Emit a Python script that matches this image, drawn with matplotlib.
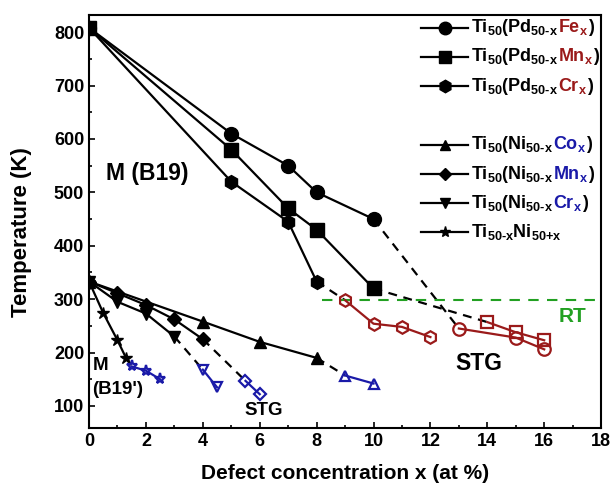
import numpy as np
import matplotlib
matplotlib.use('Agg')
import matplotlib.pyplot as plt
from matplotlib.lines import Line2D
from matplotlib.offsetbox import (AnchoredOffsetbox, HPacker, VPacker,
                                  TextArea, DrawingArea)

plt.rcParams['font.family'] = ['Liberation Sans', 'DejaVu Sans']
plt.rcParams['font.weight'] = 'bold'
plt.rcParams['mathtext.fontset'] = 'custom'
plt.rcParams['mathtext.rm'] = 'Liberation Sans:bold'
plt.rcParams['mathtext.it'] = 'Liberation Sans:bold'
plt.rcParams['mathtext.bf'] = 'Liberation Sans:bold'
plt.rcParams['mathtext.default'] = 'rm'

# ---------------- data ----------------
# Ti50(Pd50-x X x)
pd_fe_x = [0, 5, 7, 8, 10]
pd_fe_T = [808, 610, 550, 500, 450]
pd_fe_stg_x = [13, 15, 16]
pd_fe_stg_T = [245, 228, 206]

pd_mn_x = [0, 5, 7, 8, 10]
pd_mn_T = [808, 580, 470, 430, 320]
pd_mn_stg_x = [14, 15, 16]
pd_mn_stg_T = [257, 238, 223]

pd_cr_x = [0, 5, 7, 8]
pd_cr_T = [808, 520, 445, 333]
pd_cr_stg_x = [9, 10, 11, 12]
pd_cr_stg_T = [298, 254, 248, 229]

# Ti50(Ni50-x X x)
ni_co_x = [0, 4, 6, 8]
ni_co_T = [333, 258, 220, 190]
ni_co_stg_x = [9, 10]
ni_co_stg_T = [157, 142]

ni_mn_x = [0, 1, 2, 3, 4]
ni_mn_T = [333, 311, 289, 262, 225]
ni_mn_stg_x = [5.5, 6]
ni_mn_stg_T = [147, 122]

ni_cr_x = [0, 1, 2, 3]
ni_cr_T = [333, 295, 273, 230]
ni_cr_stg_x = [4, 4.5]
ni_cr_stg_T = [168, 135]

tini_x = [0, 0.5, 1, 1.3]
tini_T = [333, 274, 223, 190]
tini_stg_x = [1.5, 2, 2.5]
tini_stg_T = [174, 166, 150]

RT = 298
rt_start = 8.2

RED = '#9a1a1a'
BLUE = '#1a1aa8'
GREEN = '#22a022'

# ---------------- plot ----------------
fig = plt.figure(figsize=(6.14, 4.84), dpi=100)
ax = fig.add_axes([0.145, 0.116, 0.834, 0.853])

def series(x, T, xs, Ts, mk, col, ms, lw=1.6):
    # filled (martensite) branch, dashed link, open (strain glass) branch
    ax.plot(x, T, marker=mk, color='k', ms=ms, lw=lw, zorder=3)
    ax.plot([x[-1], xs[0]], [T[-1], Ts[0]], '--', color='k', lw=lw,
            dashes=(4, 3), zorder=2)
    ax.plot(xs, Ts, marker=mk, color=col, ms=ms - 1, lw=lw, mfc='none',
            mew=1.6, zorder=3)

series(pd_fe_x, pd_fe_T, pd_fe_stg_x, pd_fe_stg_T, 'o', RED, 10)
series(pd_mn_x, pd_mn_T, pd_mn_stg_x, pd_mn_stg_T, 's', RED, 10)
series(pd_cr_x, pd_cr_T, pd_cr_stg_x, pd_cr_stg_T, 'h', RED, 10)
series(ni_co_x, ni_co_T, ni_co_stg_x, ni_co_stg_T, '^', BLUE, 8)
series(ni_mn_x, ni_mn_T, ni_mn_stg_x, ni_mn_stg_T, 'D', BLUE, 7)
series(ni_cr_x, ni_cr_T, ni_cr_stg_x, ni_cr_stg_T, 'v', BLUE, 8)
series(tini_x, tini_T, tini_stg_x, tini_stg_T, '*', BLUE, 9)

ax.plot([rt_start, 18], [RT, RT], '--', color=GREEN, lw=1.5, dashes=(5, 4))

# labels inside plot
ax.text(17.0, 268, 'RT', color=GREEN, fontsize=15, fontweight='bold',
        ha='center', va='center')
ax.text(13.7, 179, 'STG', fontsize=16.5, fontweight='bold',
        ha='center', va='center')
ax.text(6.15, 92, 'STG', fontsize=13.5, fontweight='bold',
        ha='center', va='center')
ax.text(0.6, 536, 'M (B19)', fontsize=16.5, fontweight='bold',
        ha='left', va='center')
ax.text(0.12, 175, 'M', fontsize=13.5, fontweight='bold',
        ha='left', va='center')
ax.text(0.12, 130, "(B19')", fontsize=13.5, fontweight='bold',
        ha='left', va='center')

ax.set_xlim(0, 18)
ax.set_ylim(59, 832)
ax.set_xticks(np.arange(0, 19, 2))
ax.set_xticks(np.arange(0, 19, 1), minor=True)
ax.set_yticks(np.arange(100, 801, 100))
ax.set_yticks(np.arange(100, 801, 50), minor=True)
ax.tick_params(which='both', direction='in', width=1.2, labelsize=13)
ax.tick_params(which='major', length=4)
ax.tick_params(which='minor', length=2)
for sp in ax.spines.values():
    sp.set_linewidth(1.5)
ax.set_xlabel('Defect concentration x (at %)', fontsize=15,
              fontweight='bold')
ax.set_ylabel('Temperature (K)', fontsize=16, fontweight='bold')
ax.xaxis.set_label_coords(0.5, -0.087)
ax.yaxis.set_label_coords(-0.111, 0.475)

# ---------------- legend (multi-colour text) ----------------
def handle(mk, ms):
    da = DrawingArea(34, 14, 0, 0)
    da.add_artist(Line2D([0, 34], [7, 7], color='k', lw=1.6))
    da.add_artist(Line2D([17], [7], marker=mk, color='k', ms=ms))
    return da

def label(parts):
    boxes = [TextArea(t, textprops=dict(color=c, fontsize=13,
                                         fontweight='bold'))
             for t, c in parts]
    return HPacker(children=boxes, align='baseline', pad=0, sep=0)

pd_pre = r'Ti$_{50}$(Pd$_{50\text{-}x}$'
ni_pre = r'Ti$_{50}$(Ni$_{50\text{-}x}$'
rows = [
    ('o', 9, [(pd_pre, 'k'), (r'Fe$_{x}$', RED), (')', 'k')]),
    ('s', 9, [(pd_pre, 'k'), (r'Mn$_{x}$', RED), (')', 'k')]),
    ('h', 9, [(pd_pre, 'k'), (r'Cr$_{x}$', RED), (')', 'k')]),
    None,
    ('^', 7, [(ni_pre, 'k'), (r'Co$_{x}$', BLUE), (')', 'k')]),
    ('D', 6, [(ni_pre, 'k'), (r'Mn$_{x}$', BLUE), (')', 'k')]),
    ('v', 7, [(ni_pre, 'k'), (r'Cr$_{x}$', BLUE), (')', 'k')]),
    ('*', 8, [(r'Ti$_{50\text{-}x}$Ni$_{50\text{+}x}$', 'k')]),
]
row_boxes = []
for r in rows:
    if r is None:
        row_boxes.append(DrawingArea(10, 15, 0, 0))
        continue
    mk, ms, parts = r
    row_boxes.append(HPacker(children=[handle(mk, ms), label(parts)],
                             align='center', pad=0, sep=2))
leg = VPacker(children=row_boxes, align='left', pad=0, sep=6)
anch = AnchoredOffsetbox(loc='upper right', child=leg, pad=0,
                         borderpad=0, frameon=False,
                         bbox_to_anchor=(0.996, 0.995),
                         bbox_transform=ax.transAxes)
ax.add_artist(anch)

fig.savefig('out.png', dpi=100)
